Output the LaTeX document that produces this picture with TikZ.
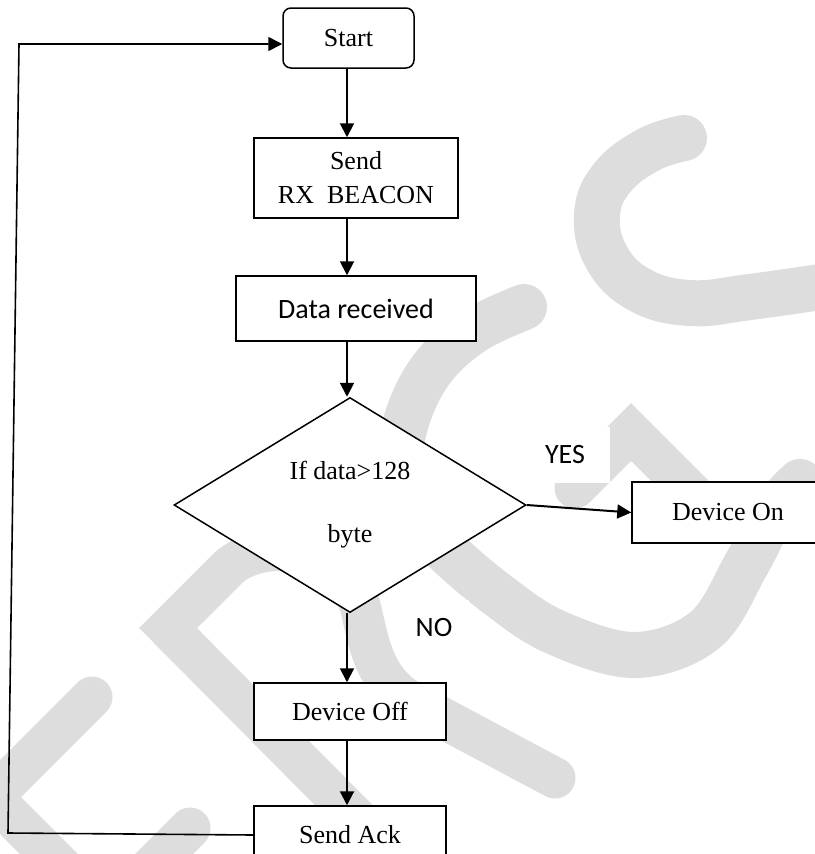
\documentclass[tikz,border=0pt]{standalone}
\usepackage{fontspec}
\setmainfont{Liberation Serif}
\newfontfamily\calib{Carlito}
\usetikzlibrary{shapes.geometric,arrows.meta}
\definecolor{wm}{RGB}{221,221,221}
\begin{document}
\begin{tikzpicture}[x=1pt,y=-1pt,
  serif/.style={font=\fontsize{26}{34}\selectfont},
  sans/.style={font=\calib\fontsize{28}{34}\selectfont},
  box/.style={draw,line width=1.5pt,fill=white,inner sep=0pt,align=center,serif},
  lbl/.style={fill=white,inner sep=0pt,sans},
  arr/.style={line width=2pt,-{Triangle[length=14pt,width=14pt]}},
  wmband/.style={draw=wm,line width=46pt,line cap=round,line join=round},
  wmchev/.style={draw=wm,line width=41pt,line cap=round,line join=miter}]
\useasboundingbox (0,0) rectangle (814,854);
\fill[white] (0,0) rectangle (814,854);
% watermark
\draw[wmband] plot[smooth,tension=0.7] coordinates {(684,138) (648,150) (612,178) (597,215) (607,258) (640,290) (690,303) (750,297) (840,284)};
\draw[wmband] plot[smooth,tension=0.6] coordinates {(524,307) (475,330) (435,365) (410,410) (400,460) (410,510) (445,550) (498,595) (555,632) (635,655) (705,630) (746,565) (775,510) (800,482)};
\draw[wmchev] (575,488) -- (631,432) -- (715,516);
\draw[wmchev] (430,892) -- (168,628) -- (228,568) .. controls (260,540) and (325,545) .. (352,585) .. controls (370,615) and (360,680) .. (420,706) -- (555,778);
\draw[wmchev] (92,697) -- (-8,797) -- (75,880);
\draw[wmchev] (190,828) -- (140,878);
% nodes
\node[box,rounded corners=8pt,minimum width=131pt,minimum height=60pt] (start) at (348.5,38) {Start};
\node[box,minimum width=204pt,minimum height=80pt] (send) at (356,178) {Send\\RX\ \ BEACON};
\node[box,sans,minimum width=240pt,minimum height=65pt] (data) at (356,308.5) {Data received};
\node[box,diamond,aspect=1.63,minimum width=352pt,minimum height=215pt] (dec) at (350,505) {If data\textgreater128\\[29pt]byte};
\node[box,minimum width=192pt,minimum height=61pt] (devon) at (728,512.5) {Device On};
\node[box,minimum width=192pt,minimum height=57pt] (devoff) at (350,711.5) {Device Off};
\node[box,minimum width=192pt,minimum height=58pt] (ack) at (350,835) {Send Ack};
\node[lbl,minimum width=90pt,minimum height=56pt] (yes) at (565,455) {YES};
\node[lbl,minimum width=70pt,minimum height=56pt] (no) at (434,628) {NO};
% connectors
\coordinate (col) at (347,0);
\coordinate (c1) at (8,833);
\coordinate (c2) at (19,44);
\draw[arr] (start.south -| col) -- (send.north -| col);
\draw[arr] (send.south -| col) -- (data.north -| col);
\draw[arr] (data.south -| col) -- (dec.north -| col);
\draw[arr] (dec.south -| col) -- (devoff.north -| col);
\draw[arr] (devoff.south -| col) -- (ack.north -| col);
\draw[arr] (dec.east) -- (devon.west);
\draw[arr,line width=1.6pt] (ack.west) -- (c1) -- (c2) -- ([yshift=-6pt]start.west);
\end{tikzpicture}
\end{document}
